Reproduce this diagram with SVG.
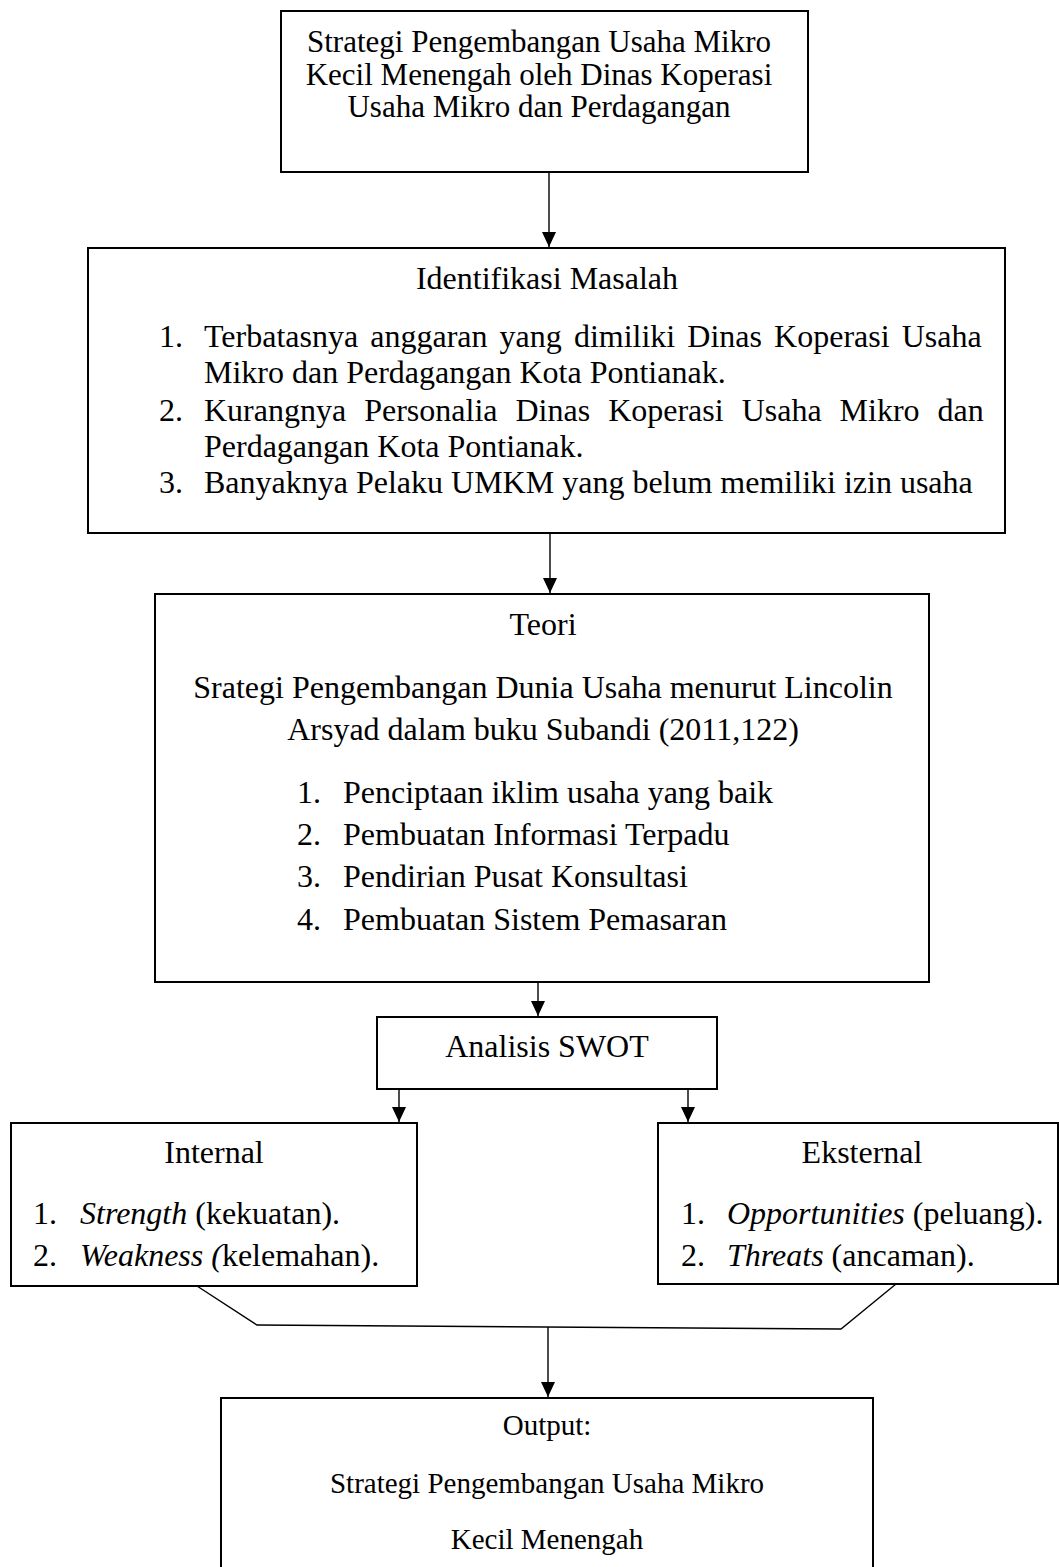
<svg xmlns="http://www.w3.org/2000/svg" width="1059" height="1567" viewBox="0 0 1059 1567">
<style>
.box{fill:#fff;stroke:#000;stroke-width:2}
.ln{fill:none;stroke:#000;stroke-width:1.4}
.t{font-family:"Liberation Serif","Times New Roman",serif;font-size:32px;fill:#000}
.t31{font-size:31px}
.t29{font-size:29px}
.c{text-anchor:middle}
.i{font-style:italic}
</style>
<defs>
<marker id="ah" markerUnits="userSpaceOnUse" markerWidth="16" markerHeight="16" viewBox="0 0 16 16" refX="15" refY="8" orient="auto">
<path d="M0,1 L15,8 L0,15 Z" fill="#000"/>
</marker>
</defs>
<rect width="1059" height="1567" fill="#fff"/>

<g id="connectors">
<line class="ln" x1="549" y1="172" x2="549" y2="247" marker-end="url(#ah)"/>
<line class="ln" x1="550" y1="533" x2="550" y2="593" marker-end="url(#ah)"/>
<line class="ln" x1="538" y1="982" x2="538" y2="1016" marker-end="url(#ah)"/>
<line class="ln" x1="399" y1="1089" x2="399" y2="1122" marker-end="url(#ah)"/>
<line class="ln" x1="688" y1="1089" x2="688" y2="1122" marker-end="url(#ah)"/>
<polyline class="ln" points="197,1286 257,1325 841,1329 896,1284"/>
<line class="ln" x1="548" y1="1327" x2="548" y2="1397" marker-end="url(#ah)"/>
</g>

<g id="node-strategi">
<rect class="box" x="281" y="11" width="527" height="161"/>
<text class="t t31 c" x="539" y="52">Strategi Pengembangan Usaha Mikro</text>
<text class="t t31 c" x="539" y="85">Kecil Menengah oleh Dinas Koperasi</text>
<text class="t t31 c" x="539" y="117">Usaha Mikro dan Perdagangan</text>
</g>

<g id="node-identifikasi">
<rect class="box" x="88" y="248" width="917" height="285"/>
<text class="t c" x="547" y="289">Identifikasi Masalah</text>
<text class="t" x="159" y="347">1.</text>
<text class="t" x="204" y="347" word-spacing="4.1">Terbatasnya anggaran yang dimiliki Dinas Koperasi Usaha</text>
<text class="t" x="204" y="383">Mikro dan Perdagangan Kota Pontianak.</text>
<text class="t" x="159" y="421">2.</text>
<text class="t" x="204" y="421" word-spacing="10">Kurangnya Personalia Dinas Koperasi Usaha Mikro dan</text>
<text class="t" x="204" y="457">Perdagangan Kota Pontianak.</text>
<text class="t" x="159" y="493">3.</text>
<text class="t" x="204" y="493">Banyaknya Pelaku UMKM yang belum memiliki izin usaha</text>
</g>

<g id="node-teori">
<rect class="box" x="155" y="594" width="774" height="388"/>
<text class="t c" x="543" y="635">Teori</text>
<text class="t c" x="543" y="698">Srategi Pengembangan Dunia Usaha menurut Lincolin</text>
<text class="t c" x="543" y="740">Arsyad dalam buku Subandi (2011,122)</text>
<text class="t" x="297" y="803">1.</text>
<text class="t" x="343" y="803">Penciptaan iklim usaha yang baik</text>
<text class="t" x="297" y="845">2.</text>
<text class="t" x="343" y="845">Pembuatan Informasi Terpadu</text>
<text class="t" x="297" y="887">3.</text>
<text class="t" x="343" y="887">Pendirian Pusat Konsultasi</text>
<text class="t" x="297" y="930">4.</text>
<text class="t" x="343" y="930">Pembuatan Sistem Pemasaran</text>
</g>

<g id="node-swot">
<rect class="box" x="377" y="1017" width="340" height="72"/>
<text class="t c" x="547" y="1057">Analisis SWOT</text>
</g>

<g id="node-internal">
<rect class="box" x="11" y="1123" width="406" height="163"/>
<text class="t c" x="214" y="1163">Internal</text>
<text class="t" x="33" y="1224">1.</text>
<text class="t" x="80" y="1224"><tspan class="i">Strength</tspan> (kekuatan).</text>
<text class="t" x="33" y="1266">2.</text>
<text class="t" x="80" y="1266"><tspan class="i">Weakness (</tspan>kelemahan).</text>
</g>

<g id="node-eksternal">
<rect class="box" x="658" y="1123" width="400" height="161"/>
<text class="t c" x="862" y="1163">Eksternal</text>
<text class="t" x="681" y="1224">1.</text>
<text class="t" x="727" y="1224"><tspan class="i">Opportunities</tspan> (peluang).</text>
<text class="t" x="681" y="1266">2.</text>
<text class="t" x="727" y="1266"><tspan class="i">Threats</tspan> (ancaman).</text>
</g>

<g id="node-output">
<rect class="box" x="221" y="1398" width="652" height="180"/>
<text class="t t29 c" x="547" y="1435">Output:</text>
<text class="t t29 c" x="547" y="1493">Strategi Pengembangan Usaha Mikro</text>
<text class="t t29 c" x="547" y="1549">Kecil Menengah</text>
</g>
</svg>
